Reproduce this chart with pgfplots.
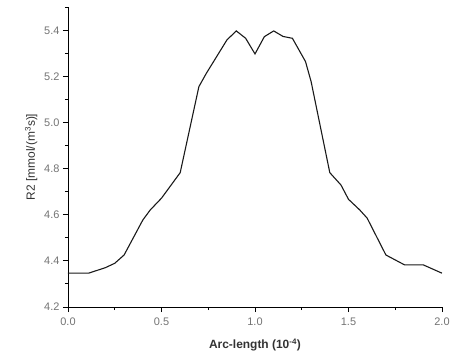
\documentclass[border=0pt]{standalone}
\usepackage{pgfplots}
\pgfplotsset{compat=1.18}
\usepackage{fontspec}
\setmainfont{Liberation Sans}
\begin{document}
\begin{tikzpicture}
\useasboundingbox (-68bp,-51bp) rectangle (385bp,307bp);
\begin{axis}[
  scale only axis,
  width=374bp, height=300bp,
  xmin=0, xmax=2.0, ymin=4.2, ymax=5.504,
  axis lines=left,
  axis line style={-, line width=1pt},
  tick align=outside,
  xtick={0,0.5,1.0,1.5,2.0},
  xticklabels={0.0,0.5,1.0,1.5,2.0},
  ytick={4.2,4.4,4.6,4.8,5.0,5.2,5.4},
  yticklabels={4.2,4.4,4.6,4.8,5.0,5.2,5.4},
  minor xtick={0.25,0.75,1.25,1.75},
  minor ytick={4.3,4.5,4.7,4.9,5.1,5.3,5.5},
  major tick length=5bp, minor tick length=3bp,
  every tick/.style={black, line width=1pt},
  tick label style={font=\fontsize{11}{12}\selectfont, text=black!55},
  xticklabel style={yshift=-2bp},
  /pgf/number format/assume math mode=true,
  xlabel={\textbf{Arc-length (10\textsuperscript{-4})}},
  ylabel={R2 [mmol/(m\textsuperscript{3}s)]},
  label style={font=\fontsize{12}{14}\selectfont, text=black!80},
  xlabel style={yshift=-7bp},
  ylabel style={yshift=0bp},
]
\addplot[black!90, line width=1.1pt] coordinates {
(0.0,4.347) (0.11,4.347) (0.2,4.371) (0.25,4.39) (0.3,4.426) (0.4,4.578) (0.44,4.622)
(0.5,4.673) (0.6,4.784) (0.7,5.158) (0.74,5.216) (0.85,5.361) (0.9,5.400)
(0.95,5.368) (1.0,5.300) (1.05,5.375) (1.1,5.400) (1.15,5.376) (1.2,5.368)
(1.27,5.267) (1.3,5.18) (1.4,4.784) (1.46,4.730) (1.5,4.668) (1.56,4.622) (1.6,4.586)
(1.7,4.426) (1.8,4.383) (1.9,4.383) (2.0,4.347)
};
\end{axis}
\end{tikzpicture}
\end{document}
